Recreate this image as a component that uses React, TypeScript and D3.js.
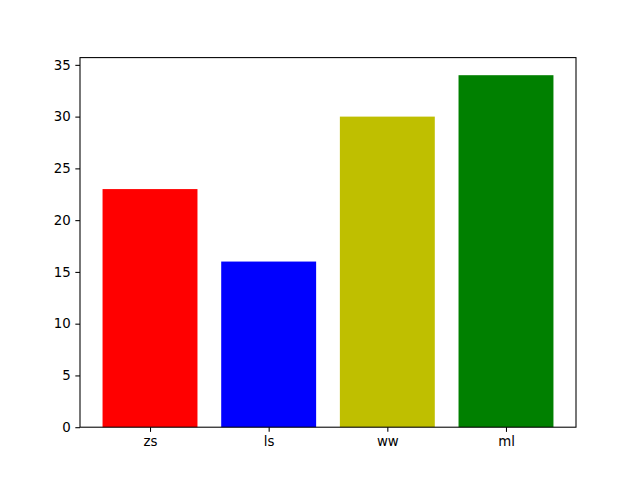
import React, { useEffect, useRef } from "react";
import * as d3 from "d3";

const names = ["zs", "ls", "ww", "ml"];
const scores = [23, 16, 30, 34];
const colors = ["#ff0000", "#0000ff", "#bfbf00", "#008000"];
const yTicks = [0, 5, 10, 15, 20, 25, 30, 35];

const width = 640;
const height = 480;
const margin = { top: 57.6, left: 80, bottom: 52.8, right: 64 };

export default function App() {
  const ref = useRef<SVGSVGElement>(null);

  useEffect(() => {
    const svg = d3.select(ref.current);
    svg.selectAll("*").remove();

    const iwidth = width - margin.left - margin.right;
    const iheight = height - margin.top - margin.bottom;

    // matplotlib style limits: 5% margins round the data
    const x = d3.scaleLinear().domain([-0.59, 3.59]).range([0, iwidth]);
    const y = d3.scaleLinear().domain([0, 35.7]).range([iheight, 0]);

    const g = svg.append("g").attr("transform", `translate(${margin.left},${margin.top})`);

    g.selectAll("rect.bar")
      .data(scores)
      .enter()
      .append("rect")
      .attr("class", "bar")
      .attr("x", (d, i) => x(i - 0.4))
      .attr("y", d => y(d))
      .attr("width", (d, i) => x(i + 0.4) - x(i - 0.4))
      .attr("height", d => iheight - y(d))
      .style("fill", (d, i) => colors[i]);

    const font = "'DejaVu Sans', sans-serif";

    const yAxis = g.append("g")
      .call(d3.axisLeft(y).tickValues(yTicks).tickSize(4.67).tickPadding(4.67).tickFormat(d3.format("d")));
    const xAxis = g.append("g")
      .attr("transform", `translate(0,${iheight})`)
      .call(d3.axisBottom(x).tickValues([0, 1, 2, 3]).tickSize(4.67).tickPadding(4.67).tickFormat((d, i) => names[i]));

    [yAxis, xAxis].forEach(a => {
      a.select(".domain").remove();
      a.selectAll("line").attr("stroke", "#000").attr("stroke-width", 1.07);
      a.selectAll("text").style("font-family", font).style("font-size", "13.33px").attr("fill", "#000");
    });

    // frame
    g.append("rect")
      .attr("x", 0)
      .attr("y", 0)
      .attr("width", iwidth)
      .attr("height", iheight)
      .attr("fill", "none")
      .attr("stroke", "#000")
      .attr("stroke-width", 1.07);
  }, []);

  return (
    <svg
      ref={ref}
      width={width}
      height={height}
      style={{ position: "absolute", left: 0, top: 0, background: "#fff" }}
    />
  );
}
